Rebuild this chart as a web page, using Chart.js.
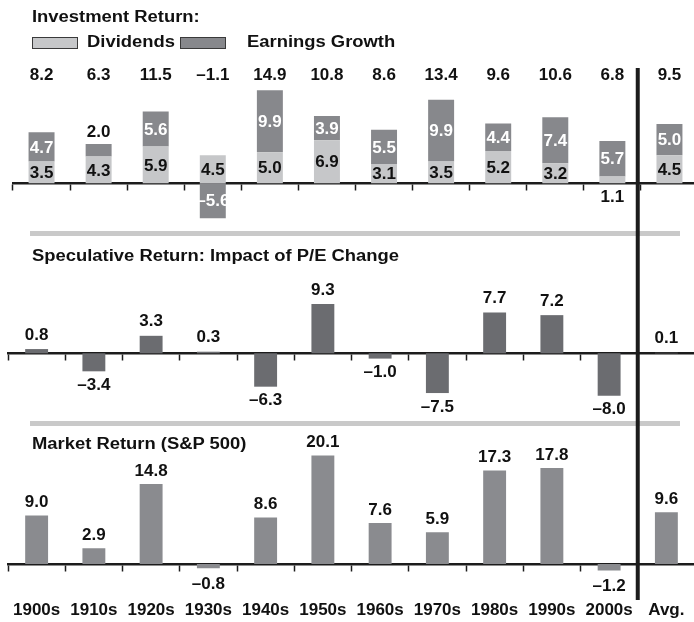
<!DOCTYPE html>
<html><head><meta charset="utf-8">
<script src="https://cdn.jsdelivr.net/npm/chart.js@4.4.0/dist/chart.umd.min.js"></script>
<style>
html,body{margin:0;padding:0;background:#fff;}
body{width:694px;height:622px;overflow:hidden;position:relative;font-family:"Liberation Sans",Arial,sans-serif;}
.sep{position:absolute;left:30px;width:650px;height:5px;background:#c9c9c9;}
.wrap{position:absolute;left:0;width:694px;overflow:hidden;}
.wrap canvas{display:block;}
.t{position:absolute;font-weight:bold;font-size:16px;line-height:16px;white-space:nowrap;transform:scaleX(1.15);transform-origin:0 0;color:#111;}
.box{position:absolute;height:12px;width:46px;box-sizing:border-box;border:1px solid #3a3a3a;}
</style></head><body>
<div class="sep" style="top:231px"></div>
<div class="sep" style="top:421px"></div>
<div class="wrap" style="top:0;height:232px"><canvas id="c1" width="700" height="232"></canvas></div>
<div class="wrap" style="top:232px;height:192px"><canvas id="c2" width="700" height="192"></canvas></div>
<div class="wrap" style="top:424px;height:198px"><canvas id="c3" width="700" height="198"></canvas></div>
<div class="t" style="left:32px;top:9px">Investment Return:</div>
<div class="box" style="left:32px;top:37px;background:#c6c7c9"></div>
<div class="t" style="left:87px;top:34px">Dividends</div>
<div class="box" style="left:180px;top:37px;background:#87888c"></div>
<div class="t" style="left:247px;top:34px">Earnings Growth</div>
<div class="t" style="left:32px;top:248px">Speculative Return: Impact of P/E Change</div>
<div class="t" style="left:32px;top:436px">Market Return (S&amp;P 500)</div>
<script>
const categories = ['1900s','1910s','1920s','1930s','1940s','1950s','1960s','1970s','1980s','1990s','2000s','Avg.'];
const dividends = [3.5, 4.3, 5.9, 4.5, 5.0, 6.9, 3.1, 3.5, 5.2, 3.2, 1.1, 4.5];
const earningsGrowth = [4.7, 2.0, 5.6, -5.6, 9.9, 3.9, 5.5, 9.9, 4.4, 7.4, 5.7, 5.0];
const investmentTotal = [8.2, 6.3, 11.5, -1.1, 14.9, 10.8, 8.6, 13.4, 9.6, 10.6, 6.8, 9.5];
const speculativeReturn = [0.8, -3.4, 3.3, 0.3, -6.3, 9.3, -1.0, -7.5, 7.7, 7.2, -8.0, 0.1];
const marketReturn = [9.0, 2.9, 14.8, -0.8, 8.6, 20.1, 7.6, 5.9, 17.3, 17.8, -1.2, 9.6];

const FAMILY = '"Liberation Sans", Arial, sans-serif';
const FONT = 'bold 17px ' + FAMILY;
const INK = '#111';
function fmt(v){ return (v < 0 ? '\u2013' : '') + Math.abs(v).toFixed(1); }

// the divider sits between the last decade and the average, taken from the middle panel's scale
let dividerX = null;
function boundaryX(chart){ const x = chart.scales.x; return (x.getPixelForValue(10) + x.getPixelForValue(11)) / 2; }
function divider(yFrom, yTo){
  return { id:'divider', afterDatasetsDraw(chart){
    const px = dividerX === null ? boundaryX(chart) : dividerX;
    const ctx = chart.ctx;
    ctx.save(); ctx.strokeStyle = '#1c1c1c'; ctx.lineWidth = 4;
    ctx.beginPath(); ctx.moveTo(px, yFrom); ctx.lineTo(px, yTo === null ? chart.height : yTo); ctx.stroke();
    ctx.restore();
  }};
}

const stackLabels = { id:'stackLabels', afterDatasetsDraw(chart){
  const ctx = chart.ctx; const y0 = chart.scales.y.getPixelForValue(0);
  const m0 = chart.getDatasetMeta(0).data, m1 = chart.getDatasetMeta(1).data;
  ctx.save(); ctx.font = FONT; ctx.textAlign = 'center'; ctx.textBaseline = 'middle';
  m0.forEach((bar, i) => {
    const v = dividends[i];
    ctx.fillStyle = INK;
    if (Math.abs(v) >= 2) ctx.fillText(fmt(v), bar.x, (bar.y + bar.base) / 2 + 1);
    else ctx.fillText(fmt(v), bar.x, y0 + 14);
    const e = m1[i], ev = earningsGrowth[i];
    if (Math.abs(ev) >= 2.5) { ctx.fillStyle = '#fff'; ctx.fillText(fmt(ev), e.x, (e.y + e.base) / 2 + 1); }
    else { ctx.fillStyle = INK; ctx.fillText(fmt(ev), e.x, e.y - 12); }
    ctx.fillStyle = INK;
    ctx.fillText(fmt(investmentTotal[i]), bar.x, chart.chartArea.top - 8.5);
  });
  ctx.restore();
}};

function singleLabels(values, upOff, downOff){
  return { id:'vals', afterDatasetsDraw(chart){
    const ctx = chart.ctx;
    ctx.save(); ctx.font = FONT; ctx.textAlign = 'center'; ctx.textBaseline = 'middle'; ctx.fillStyle = INK;
    chart.getDatasetMeta(0).data.forEach((bar, i) => {
      const v = values[i];
      ctx.fillText(fmt(v), bar.x, v >= 0 ? bar.y - upOff : bar.y + downOff);
    });
    ctx.restore();
  }};
}

function options(min, max, pad, withLabelAxis){
  const scales = {
    x:{ type:'category', position:{y:0}, offset:true, stacked:true,
        border:{display:true, color:'#1c1c1c', width:2.5},
        grid:{display:true, offset:true, drawOnChartArea:false, drawTicks:true, tickLength:6, tickWidth:1.5, color:'#1c1c1c', tickColor:'#1c1c1c'},
        ticks:{display:false} },
    y:{ display:false, min:min, max:max, stacked:true }
  };
  if (withLabelAxis) {
    // label-only axis: invisible tick marks give the drop below the chart area
    scales.xl = { type:'category', axis:'x', position:'bottom', offset:true, labels:categories,
      border:{display:false},
      grid:{display:true, drawOnChartArea:false, drawTicks:true, tickLength:22.5, color:'rgba(0,0,0,0)', tickColor:'rgba(0,0,0,0)'},
      ticks:{display:true, color:INK, font:{family:FAMILY, size:17, weight:'bold'}, padding:0, maxRotation:0, autoSkip:false} };
  }
  return {
    responsive:false, animation:false, devicePixelRatio:1,
    layout:{ padding:pad },
    plugins:{ legend:{display:false}, tooltip:{enabled:false}, title:{display:false} },
    scales:scales
  };
}

const c2 = new Chart(document.getElementById('c2'), {
  type:'bar',
  data:{ labels:categories, datasets:[
    { label:'Speculative Return', data:speculativeReturn, backgroundColor:'#6b6c70', borderWidth:0, barPercentage:0.40, categoryPercentage:1 }
  ]},
  options: options(-9, 11, {top:63, bottom:23, left:8, right:5}, false),
  plugins:[singleLabels(speculativeReturn, 14, 14), divider(0, null)]
});
dividerX = boundaryX(c2);

new Chart(document.getElementById('c3'), {
  type:'bar',
  data:{ labels:categories, datasets:[
    { label:'Market Return (S&P 500)', data:marketReturn, backgroundColor:'#8a8b8f', borderWidth:0, barPercentage:0.40, categoryPercentage:1 }
  ]},
  options: options(-2.5, 21, {top:26.6, bottom:1.6, left:8, right:5}, true),
  plugins:[singleLabels(marketReturn, 13, 16), divider(0, 176)]
});

new Chart(document.getElementById('c1'), {
  type:'bar',
  data:{ labels:categories, datasets:[
    { label:'Dividends', data:dividends, backgroundColor:'#c6c7c9', borderWidth:0, barPercentage:0.455, categoryPercentage:1 },
    { label:'Earnings Growth', data:earningsGrowth, backgroundColor:'#87888c', borderWidth:0, barPercentage:0.455, categoryPercentage:1 }
  ]},
  options: options(-6.5, 16, {top:83.5, bottom:8.1, left:13, right:2}, false),
  plugins:[stackLabels, divider(68, null)]
});
</script>
</body></html>
